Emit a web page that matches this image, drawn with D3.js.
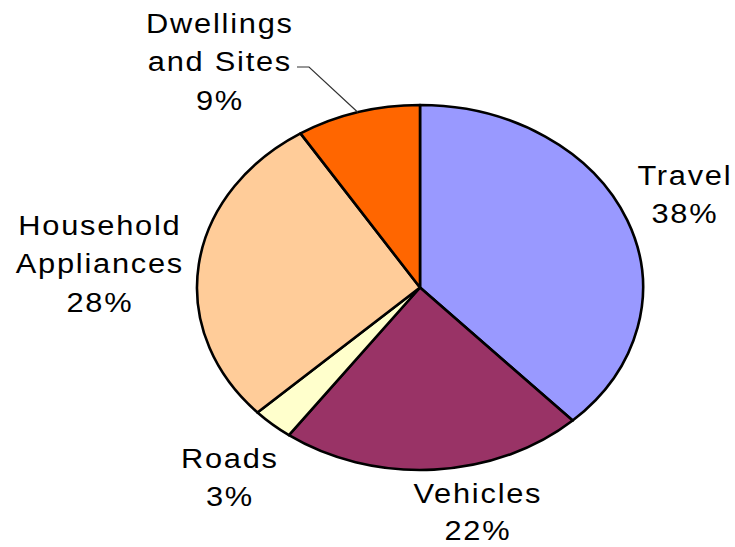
<!DOCTYPE html>
<html>
<head>
<meta charset="utf-8">
<script src="https://cdn.jsdelivr.net/npm/d3@7/dist/d3.min.js"></script>
<style>
  html, body { margin: 0; padding: 0; background: #ffffff; }
  svg { display: block; }
  text { font-family: "Liberation Sans", Arial, Helvetica, sans-serif; fill: #000; }
</style>
</head>
<body>
<svg id="chart" width="735" height="547"></svg>
<script>
// Share of impact by category (percent)
const categories = ["Travel", "Vehicles", "Roads", "Household Appliances", "Dwellings and Sites"];
const shares = [38, 22, 3, 28, 9];
const colors = ["#9999FF", "#993366", "#FFFFCC", "#FFCC99", "#FF6600"];
// Label text split into lines, percentage appended below
const labelLines = [["Travel"], ["Vehicles"], ["Roads"], ["Household", "Appliances"], ["Dwellings", "and Sites"]];

const W = 735, H = 547;
const cx = 420, cy = 287.5;
const rx = 223, ry = 182.5;
const squash = ry / rx;

const svg = d3.select("#chart");

const data = categories.map((c, i) => ({ name: c, value: shares[i], color: colors[i], lines: labelLines[i] }));

const pie = d3.pie().value(d => d.value).sort(null).startAngle(0).endAngle(2 * Math.PI);
const arcs = pie(data);
const arc = d3.arc().innerRadius(0).outerRadius(rx);

// Tilted (elliptical) pie: draw a circle of radius rx and compress vertically
const pieG = svg.append("g").attr("transform", `translate(${cx},${cy}) scale(1,${squash})`);
pieG.selectAll("path")
  .data(arcs)
  .join("path")
  .attr("d", arc)
  .attr("fill", d => d.data.color)
  .attr("stroke", "#000")
  .attr("stroke-width", 2.6)
  .attr("stroke-linejoin", "round")
  .attr("vector-effect", "non-scaling-stroke");

// Label anchor positions (centre x, first baseline y)
const labelPos = {
  "Travel": [684, 185],
  "Vehicles": [477, 503],
  "Roads": [229, 468],
  "Household Appliances": [99, 235],
  "Dwellings and Sites": [219, 33]
};
const lineGaps = { "Vehicles": 37 };
const lineGap = 38.5;
const fontSize = 28;
const spacing = 1.6;
const stretch = 1.1;

const labels = svg.append("g");
data.forEach(d => {
  const [x, y] = labelPos[d.name];
  const gap = lineGaps[d.name] || lineGap;
  const rows = d.lines.concat([d.value + "%"]);
  const t = labels.append("text")
    .attr("transform", `translate(${x},${y}) scale(${stretch},1)`)
    .attr("text-anchor", "middle")
    .attr("font-size", fontSize)
    .attr("letter-spacing", spacing + "px");
  rows.forEach((r, j) => {
    t.append("tspan")
      .attr("x", spacing / 2)
      .attr("y", j * gap)
      .text(r);
  });
});

// Leader line from the Dwellings label to its slice edge
const dw = arcs[4];
const mid = (dw.startAngle + dw.endAngle) / 2;
const edge = [cx + rx * Math.sin(mid), cy - ry * Math.cos(mid)];
svg.append("polyline")
  .attr("points", [[297, 67], [309, 67], edge].map(p => p.join(",")).join(" "))
  .attr("fill", "none")
  .attr("stroke", "#333")
  .attr("stroke-width", 1.2);
</script>
</body>
</html>
